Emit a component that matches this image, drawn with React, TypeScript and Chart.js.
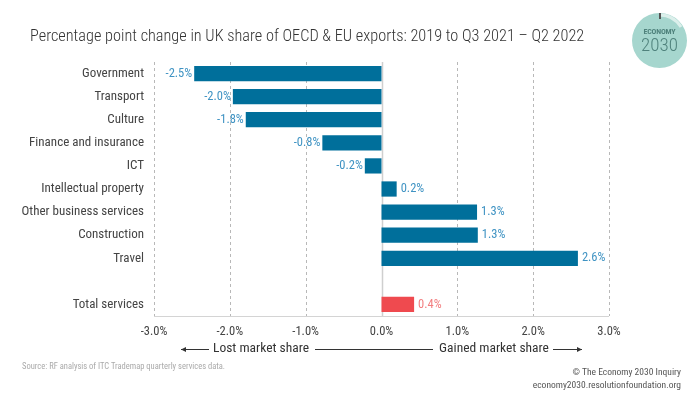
import React, { useEffect, useRef } from "react";
import { Chart, registerables } from "chart.js";

Chart.register(...registerables);

const categories = [
  "Government",
  "Transport",
  "Culture",
  "Finance and insurance",
  "ICT",
  "Intellectual property",
  "Other business services",
  "Construction",
  "Travel",
  "",
  "Total services",
];
const values: (number | null)[] = [-2.47, -1.96, -1.79, -0.78, -0.22, 0.2, 1.26, 1.27, 2.59, null, 0.43];
const totalCategory = "Total services";
const xMin = -3;
const xMax = 3;
const xStep = 1;

const FONT = "'Roboto Condensed', Roboto, sans-serif";
const BLUE = "#006f9b";
const RED = "#ef4a4f";
const BLUE_LABEL = "#3f93c3";
const RED_LABEL = "#f27d7f";

const fmt = (v: number) => v.toFixed(1) + "%";

const gridPlugin = {
  id: "customGrid",
  beforeDatasetsDraw(chart: any) {
    const { ctx, chartArea, scales } = chart;
    const x = scales.x;
    ctx.save();
    x.ticks.forEach((t: any) => {
      const px = Math.round(x.getPixelForValue(t.value)) + 0.5;
      ctx.beginPath();
      ctx.lineWidth = 1;
      if (t.value === 0) {
        ctx.setLineDash([]);
        ctx.strokeStyle = "#cfcfcf";
        ctx.lineWidth = 1.5;
      } else {
        ctx.setLineDash([3, 3]);
        ctx.strokeStyle = "#b8b8b8";
      }
      ctx.moveTo(px, chartArea.top);
      ctx.lineTo(px, chartArea.bottom);
      ctx.stroke();
    });
    ctx.setLineDash([]);
    ctx.strokeStyle = "#d4d4d4";
    ctx.lineWidth = 1;
    ctx.beginPath();
    const by = Math.round(chartArea.bottom) + 0.5;
    ctx.moveTo(chartArea.left, by);
    ctx.lineTo(chartArea.right, by);
    ctx.stroke();
    ctx.restore();
  },
  afterDatasetsDraw(chart: any) {
    const { ctx } = chart;
    const meta = chart.getDatasetMeta(0);
    ctx.save();
    ctx.font = `12.5px ${FONT}`;
    ctx.textBaseline = "middle";
    meta.data.forEach((bar: any, i: number) => {
      const v = values[i];
      if (v === null || v === undefined) return;
      const isTotal = categories[i] === totalCategory;
      ctx.fillStyle = isTotal ? RED_LABEL : BLUE_LABEL;
      if (v < 0) {
        ctx.textAlign = "right";
        ctx.fillText(fmt(v), bar.x - 2, bar.y);
      } else {
        ctx.textAlign = "left";
        ctx.fillText(fmt(v), bar.x + 4, bar.y);
      }
    });
    // direction annotation
    const y = 349;
    ctx.strokeStyle = "#333";
    ctx.fillStyle = "#333";
    ctx.lineWidth = 1;
    const line = (x1: number, x2: number) => {
      ctx.beginPath();
      ctx.moveTo(x1, y + 0.5);
      ctx.lineTo(x2, y + 0.5);
      ctx.stroke();
    };
    const head = (xp: number, dir: number) => {
      ctx.beginPath();
      ctx.moveTo(xp, y + 0.5);
      ctx.lineTo(xp - dir * 5, y - 2);
      ctx.lineTo(xp - dir * 5, y + 3);
      ctx.closePath();
      ctx.fill();
    };
    line(181, 209);
    head(181, -1);
    line(315, 433);
    line(553, 582);
    head(582, 1);
    ctx.font = `13.5px ${FONT}`;
    ctx.fillStyle = "#333";
    ctx.textAlign = "center";
    ctx.fillText("Lost market share", 261, y);
    ctx.fillText("Gained market share", 494, y);
    ctx.restore();
  },
};

function BarChart() {
  const ref = useRef<HTMLCanvasElement>(null);
  useEffect(() => {
    if (!ref.current) return;
    const chart = new Chart(ref.current, {
      type: "bar",
      data: {
        labels: categories,
        datasets: [
          {
            data: values as any,
            backgroundColor: categories.map((c) => (c === totalCategory ? RED : BLUE)),
            borderWidth: 0,
            categoryPercentage: 1,
            barPercentage: 0.66,
          },
        ],
      },
      options: {
        indexAxis: "y",
        animation: false,
        responsive: true,
        maintainAspectRatio: false,
        layout: { padding: { left: 0, top: 62, right: 91, bottom: 48 } },
        plugins: { legend: { display: false }, tooltip: { enabled: false }, title: { display: false } },
        scales: {
          x: {
            min: xMin,
            max: xMax,
            grid: { display: false, drawTicks: false },
            border: { display: false },
            afterFit: (s: any) => {
              s.height = 30;
            },
            ticks: {
              stepSize: xStep,
              padding: 8,
              color: "#444",
              font: { family: FONT, size: 12.5 },
              callback: (v: any) => fmt(Number(v)),
            },
          },
          y: {
            grid: { display: false, drawTicks: false },
            border: { display: false },
            afterFit: (s: any) => {
              s.width = 154;
            },
            ticks: {
              padding: 10,
              color: "#444",
              font: { family: FONT, size: 13 },
              autoSkip: false,
            },
          },
        },
      },
      plugins: [gridPlugin],
    });
    return () => chart.destroy();
  }, []);
  return <canvas ref={ref} />;
}

export default function App() {
  useEffect(() => {
    document.body.style.margin = "0";
  }, []);
  return (
    <div
      style={{
        position: "fixed",
        left: 0,
        top: 0,
        width: 700,
        height: 394,
        background: "#fff",
        fontFamily: FONT,
        overflow: "hidden",
      }}
    >
      <div style={{ position: "absolute", left: 0, top: 0, width: 700, height: 394 }}>
        <BarChart />
      </div>
      <div
        style={{
          position: "absolute",
          left: 30,
          top: 26,
          fontSize: 16.3,
          fontWeight: 300,
          color: "#333",
          whiteSpace: "nowrap",
        }}
      >
        Percentage point change in UK share of OECD &amp; EU exports: 2019 to Q3 2021 – Q2 2022
      </div>
      <div
        style={{
          position: "absolute",
          left: 632,
          top: 13,
          width: 55,
          height: 55,
          borderRadius: "50%",
          background: "#a6d6ce",
          textAlign: "center",
          color: "#4f827c",
        }}
      >
        <svg width={55} height={55} style={{ position: "absolute", left: 0, top: 0 }}>
          <path d="M 27.5 2 A 25.5 25.5 0 0 1 49 14" stroke="#dcefeb" strokeWidth={3} fill="none" />
        </svg>
        <div style={{ position: "absolute", left: 26.5, top: 0, width: 2, height: 6, background: "#555" }} />
        <div
          style={{
            position: "absolute",
            left: 0,
            top: 14,
            width: 55,
            fontSize: 8,
            fontWeight: 700,
            lineHeight: "9px",
            letterSpacing: -0.2,
          }}
        >
          ECONOMY
        </div>
        <div style={{ position: "absolute", left: 0, top: 22, width: 55, fontSize: 19, lineHeight: "19px", fontWeight: 300 }}>
          2030
        </div>
      </div>
      <div style={{ position: "absolute", left: 22, top: 361, fontSize: 8.5, color: "#aaa", whiteSpace: "nowrap" }}>
        Source: RF analysis of ITC Trademap quarterly services data.
      </div>
      <div
        style={{
          position: "absolute",
          right: 19,
          top: 366,
          fontSize: 9.5,
          color: "#555",
          textAlign: "right",
          lineHeight: "12.5px",
          whiteSpace: "nowrap",
        }}
      >
        © The Economy 2030 Inquiry
        <br />
        economy2030.resolutionfoundation.org
      </div>
    </div>
  );
}
